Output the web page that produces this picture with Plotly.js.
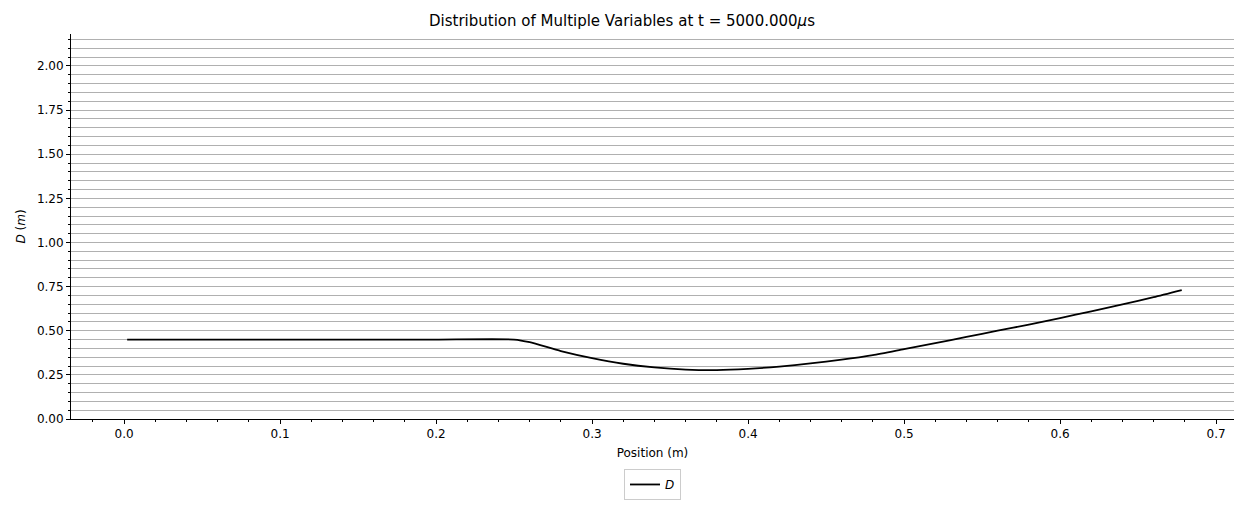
<!DOCTYPE html>
<html>
<head>
<meta charset="utf-8">
<script src="https://cdn.plot.ly/plotly-3.0.1.min.js"></script>
<style>body{margin:0;background:#fff}</style>
</head>
<body>
<div id="plot" style="width:1244px;height:507px"></div>
<script>
// Position (m) and D (m)
let position = [0.002, 0.05, 0.10, 0.15, 0.20, 0.25, 0.26, 0.28, 0.30, 0.32, 0.34, 0.36, 0.38,
  0.40, 0.42, 0.44, 0.46, 0.48, 0.50, 0.52, 0.54, 0.56, 0.58, 0.60, 0.62, 0.64, 0.66, 0.678];
let diameter = [0.45, 0.45, 0.45, 0.45, 0.45, 0.45, 0.435, 0.385, 0.345, 0.313, 0.292, 0.280, 0.277,
  0.284, 0.297, 0.315, 0.336, 0.362, 0.396, 0.430, 0.465, 0.500, 0.535, 0.572, 0.610, 0.650, 0.690, 0.730];

let font = {family: 'DejaVu Sans, sans-serif', size: 12, color: '#000'};

let data = [{
  x: position,
  y: diameter,
  mode: 'lines',
  type: 'scatter',
  name: '<i>D</i>',
  line: {color: '#000', width: 1.8, shape: 'spline', smoothing: 0.6}
}];

let layout = {
  font: font,
  paper_bgcolor: '#fff',
  plot_bgcolor: '#fff',
  title: {text: 'Distribution of Multiple Variables at t = 5000.000<i>μ</i>s', font: {size: 15}, x: 0.5, y: 0.96, yanchor: 'middle'},
  margin: {l: 71, r: 10, t: 34, b: 88, autoexpand: false},
  showlegend: true,
  legend: {orientation: 'h', x: 0.5, xanchor: 'center', yref: 'container', y: 0.075, yanchor: 'top',
    bordercolor: '#ccc', borderwidth: 1, font: {size: 12}},
  xaxis: {
    title: {text: 'Position (m)', font: {size: 12}, standoff: 8},
    range: [-0.034, 0.7115], dtick: 0.1, tickformat: '.1f', automargin: false,
    showgrid: false, zeroline: false, showline: true, linecolor: '#000', linewidth: 1,
    ticks: 'outside', ticklen: 4, tickcolor: '#000', tickfont: {size: 12},
    minor: {dtick: 0.02, ticks: 'outside', ticklen: 2, tickcolor: '#000', showgrid: false}
  },
  yaxis: {
    title: {text: '<i>D</i> (<i>m</i>)', font: {size: 12}, standoff: 8},
    range: [0, 2.181], dtick: 0.25, tickformat: '.2f', automargin: false,
    showgrid: true, gridcolor: '#b0b0b0', gridwidth: 1,
    zeroline: false, showline: true, linecolor: '#000', linewidth: 1,
    ticks: 'outside', ticklen: 4, tickcolor: '#000', tickfont: {size: 12},
    minor: {dtick: 0.05, ticks: 'outside', ticklen: 2, tickcolor: '#000', showgrid: true, gridcolor: '#b0b0b0', gridwidth: 1}
  }
};

Plotly.newPlot('plot', data, layout, {displayModeBar: false});
</script>
</body>
</html>
